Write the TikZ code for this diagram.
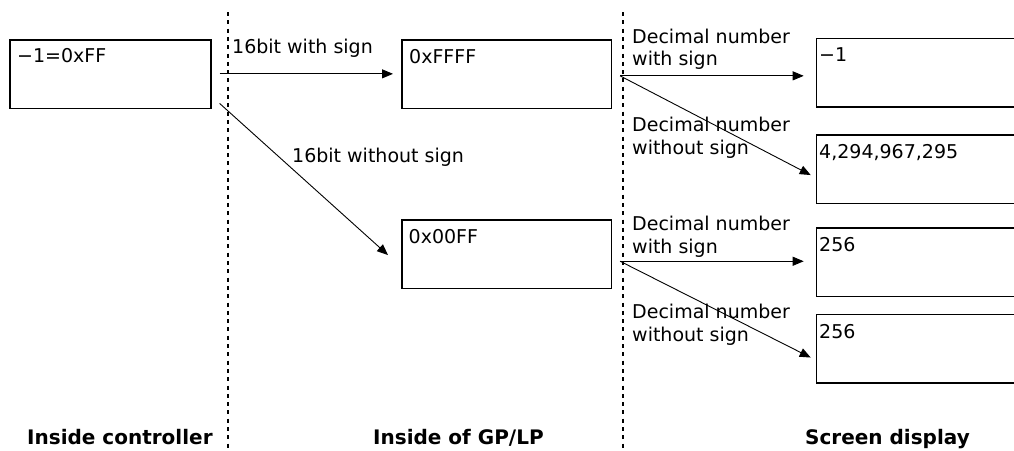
\documentclass[tikz,border=0pt]{standalone}
\usepackage{fontspec}
\setmainfont{DejaVu Sans}
\usetikzlibrary{arrows.meta}
\begin{document}
\begin{tikzpicture}[x=1pt,y=-1pt,
  box/.style={draw, line width=1.6pt, inner sep=0pt, anchor=north west, minimum height=68.5pt},
  txt/.style={anchor=base west, inner sep=0pt, font=\fontsize{19}{22}\selectfont},
  hd/.style={anchor=base west, inner sep=0pt, font=\bfseries\fontsize{20}{24}\selectfont},
  arr/.style={-{Triangle[length=11pt,width=9pt]}, line width=0.9pt},
  sep/.style={line width=2pt, dash pattern=on 4pt off 4.3pt}]
\useasboundingbox (0,0) rectangle (1014,450);
\clip (0,0) rectangle (1014,450);
% separators
\coordinate (d1t) at (228,12); \coordinate (d1b) at (228,450);
\coordinate (d2t) at (623,12); \coordinate (d2b) at (623,450);
\draw[sep] (d1t) -- (d1b);
\draw[sep] (d2t) -- (d2b);
% boxes
\node[box, minimum width=201pt] (b1) at (9,39.3) {};
\node[box, minimum width=209.5pt] (b2) at (401,39.3) {};
\node[box, minimum width=209.5pt] (b3) at (401,219) {};
\node[box, minimum width=220pt] (s1) at (815.7,37.7) {};
\node[box, minimum width=220pt] (s2) at (815.7,134) {};
\node[box, minimum width=220pt] (s3) at (815.7,227) {};
\node[box, minimum width=220pt] (s4) at (815.7,313.5) {};
% box texts
\node[txt] (t1) at (17,62) {−1=0xFF};
\node[txt] (t2) at (409,63) {0xFFFF};
\node[txt] (t3) at (408.5,243) {0x00FF};
\node[txt] (t4) at (819,61.7) {−1};
\node[txt] (t5) at (819,158) {4,294,967,295};
\node[txt] (t6) at (819,251.7) {256};
\node[txt] (t7) at (819,338) {256};
% arrow labels
\node[txt] (l1) at (232,53) {16bit with sign};
\node[txt] (l2) at (292,162) {16bit without sign};
\node[txt] (l3a) at (632,43) {Decimal number};
\node[txt] (l3b) at (632,65.5) {with sign};
\node[txt] (l4a) at (632,131) {Decimal number};
\node[txt] (l4b) at (632,154) {without sign};
\node[txt] (l5a) at (632,230) {Decimal number};
\node[txt] (l5b) at (632,253) {with sign};
\node[txt] (l6a) at (632,318) {Decimal number};
\node[txt] (l6b) at (632,341) {without sign};
% headings
\node[hd] (h1) at (27,444) {Inside controller};
\node[hd] (h2) at (373,444) {Inside of GP/LP};
\node[hd] (h3) at (805,444) {Screen display};
% connectors
\coordinate (o2) at ([xshift=8pt,yshift=-1.5pt]b2.east);
\coordinate (o3) at ([xshift=8pt,yshift=-7.2pt]b3.east);
\draw[arr] ([xshift=8pt,yshift=0.5pt]b1.east) -- ([xshift=-8pt,yshift=0.5pt]b2.west);
\draw[arr] ([xshift=8pt,yshift=6pt]b1.south east) -- ([xshift=-13pt,yshift=-1pt]b3.west);
\draw[arr, shorten >=12pt] (o2) -- (o2 -| s1.west);
\draw[arr] (o2) -- ([xshift=-5pt,yshift=-6pt]s2.west);
\draw[arr, shorten >=12pt] (o3) -- (o3 -| s3.west);
\draw[arr] (o3) -- ([xshift=-5pt,yshift=-9pt]s4.west);
\end{tikzpicture}
\end{document}
